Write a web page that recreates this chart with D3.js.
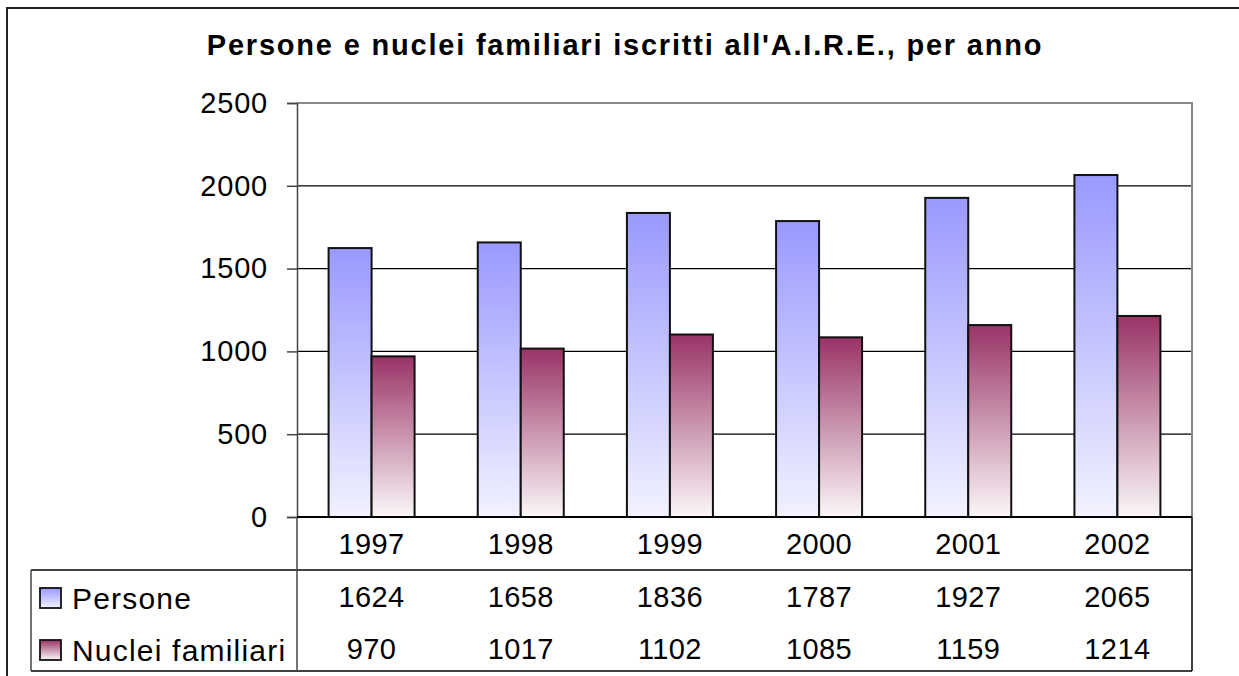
<!DOCTYPE html>
<html><head><meta charset="utf-8">
<script src="https://cdn.jsdelivr.net/npm/d3@7/dist/d3.min.js"></script>
<style>
html,body{margin:0;padding:0;background:#fff;}
svg{display:block;font-family:"Liberation Sans",Arial,sans-serif;}
</style></head>
<body>
<script>
const title = "Persone e nuclei familiari iscritti all'A.I.R.E., per anno";
const years = ["1997","1998","1999","2000","2001","2002"];
const seriesNames = ["Persone","Nuclei familiari"];
const persone = [1624,1658,1836,1787,1927,2065];
const nuclei = [970,1017,1102,1085,1159,1214];
const yTicks = [0,500,1000,1500,2000,2500];

const W = 1239, H = 676;
const svg = d3.select("body").append("svg").attr("width",W).attr("height",H);

const defs = svg.append("defs");
function grad(id, top, bottom){
  const g = defs.append("linearGradient").attr("id",id).attr("x1",0).attr("y1",0).attr("x2",0).attr("y2",1);
  g.append("stop").attr("offset","0%").attr("stop-color",top);
  g.append("stop").attr("offset","100%").attr("stop-color",bottom);
}
grad("gP","#9999FF","#F2F2FF");
grad("gN","#993366","#FBF7F9");
const fills = ["url(#gP)","url(#gN)"];

const L = 297, R = 1192, T = 103, B = 517;
const rowYear = 544, rowP = 597, rowN = 649, tableTop = 570, tableBot = 671, tableLeft = 31;
const FS = 29;

const x = d3.scaleBand().domain(years).range([L,R]).paddingInner(0).paddingOuter(0);
const xs = d3.scaleBand().domain(seriesNames).range([0,86]);
const y = d3.scaleLinear().domain([0,2500]).range([B,T]);

// outer frame
svg.append("path").attr("d",`M7,${H} V8 H${W}`).attr("fill","none").attr("stroke","#222").attr("stroke-width",2);

// title
svg.append("text").attr("x",625).attr("y",55).attr("text-anchor","middle")
  .attr("font-size",29).attr("font-weight","bold").attr("letter-spacing",1.8).attr("fill","#000").text(title);

// gridlines
svg.append("g").selectAll("line").data(yTicks.filter(d=>d>0 && d<2500)).join("line")
  .attr("x1",L).attr("x2",R).attr("y1",d=>y(d)).attr("y2",d=>y(d)).attr("stroke","#000").attr("stroke-width",1.2);
// plot border top/right grey
svg.append("path").attr("d",`M${L},${y(2500)} H${R} V${B}`).attr("fill","none").attr("stroke","#888").attr("stroke-width",2);

// bars
const series = [persone, nuclei];
const g = svg.append("g");
series.forEach((vals,si)=>{
  g.selectAll(null).data(vals).join("rect")
    .attr("x",(d,i)=>x(years[i]) + (x.bandwidth()-86)/2 + xs(seriesNames[si]))
    .attr("y",d=>y(d))
    .attr("width",xs.bandwidth())
    .attr("height",d=>B-y(d))
    .attr("fill",fills[si]).attr("stroke","#111").attr("stroke-width",2);
});

// y axis
const ya = d3.axisLeft(y).tickValues(yTicks).tickFormat(d3.format("d")).tickSize(10).tickPadding(19);
const yg = svg.append("g").attr("transform",`translate(${L},0)`).call(ya);
yg.select(".domain").attr("stroke","#444").attr("stroke-width",1.5);
yg.selectAll(".tick line").attr("stroke","#444").attr("stroke-width",1.5);
yg.selectAll(".tick text").attr("font-size",FS).attr("fill","#000").attr("font-family","Liberation Sans, Arial, sans-serif").attr("letter-spacing",0.8);

// x axis zero line
svg.append("line").attr("x1",L).attr("x2",R).attr("y1",B).attr("y2",B).attr("stroke","#000").attr("stroke-width",2);

// table lines
const tl = svg.append("g").attr("stroke","#000").attr("stroke-width",1.5).attr("fill","none");
tl.append("line").attr("x1",tableLeft).attr("x2",R).attr("y1",tableTop).attr("y2",tableTop);
tl.append("line").attr("x1",tableLeft).attr("x2",R).attr("y1",tableBot).attr("y2",tableBot);
tl.append("line").attr("x1",tableLeft).attr("x2",tableLeft).attr("y1",tableTop).attr("y2",tableBot).attr("stroke","#444");
tl.append("line").attr("x1",L).attr("x2",L).attr("y1",B).attr("y2",tableBot).attr("stroke","#444");
tl.append("line").attr("x1",R).attr("x2",R).attr("y1",B).attr("y2",tableBot);

// year labels
const txt = (sel)=>sel.attr("font-size",FS).attr("fill","#000").attr("text-anchor","middle").attr("dominant-baseline","central").attr("letter-spacing",0.4);
svg.append("g").selectAll("text").data(years).join("text")
  .attr("x",d=>x(d)+x.bandwidth()/2).attr("y",rowYear).text(d=>d).call(txt);
[persone,nuclei].forEach((vals,si)=>{
  svg.append("g").selectAll("text").data(vals).join("text")
    .attr("x",(d,i)=>x(years[i])+x.bandwidth()/2).attr("y",si===0?rowP:rowN).text(d=>d).call(txt);
});

// legend
seriesNames.forEach((n,si)=>{
  const cy = si===0?rowP:rowN;
  svg.append("rect").attr("x",40).attr("y",cy-9).attr("width",21).attr("height",20)
    .attr("fill",fills[si]).attr("stroke","#111").attr("stroke-width",1.8);
  svg.append("text").attr("x",72).attr("y",cy+1).attr("font-size",30).attr("fill","#000")
    .attr("dominant-baseline","central").attr("letter-spacing",1.2).text(n);
});
</script>
</body></html>
